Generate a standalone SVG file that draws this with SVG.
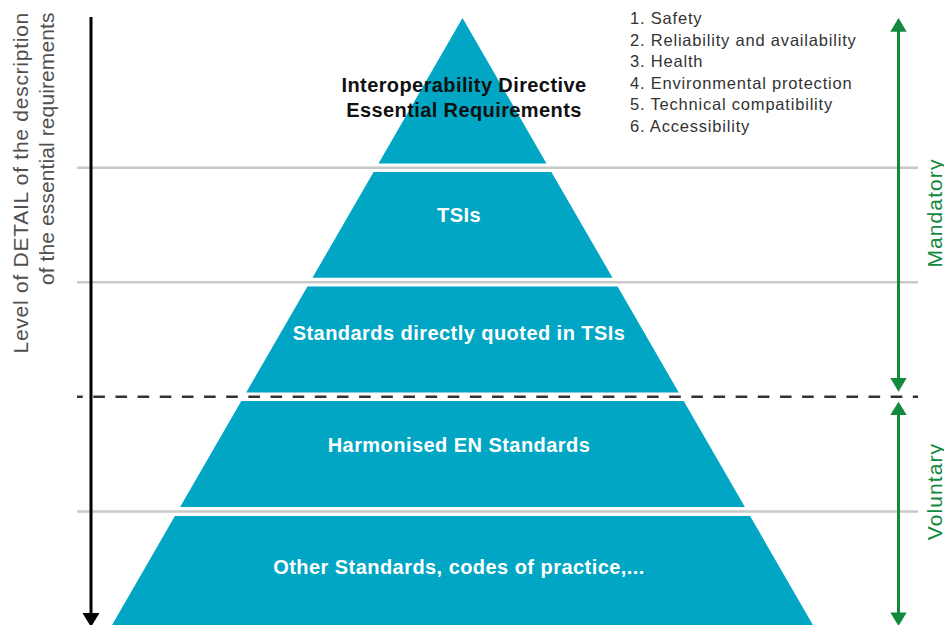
<svg xmlns="http://www.w3.org/2000/svg" width="944" height="625" viewBox="0 0 944 625">
  <defs>
    <style>
      .tier { fill: #01a6c4; }
      .sep { stroke: #c9c9c9; stroke-width: 2.5; fill: none; }
      .split { stroke: #333333; stroke-width: 2.5; stroke-dasharray: 11.6 10.55; stroke-dashoffset: 5.85; fill: none; }
      .tier-label { font-family: "Liberation Sans", Arial, sans-serif; font-weight: bold; font-size: 20px; fill: #ffffff; text-anchor: middle; letter-spacing: 0.45px; }
      .title { font-family: "Liberation Sans", Arial, sans-serif; font-weight: bold; font-size: 20px; fill: #111111; text-anchor: middle; letter-spacing: 0.4px; }
      .req { font-family: "Liberation Sans", Arial, sans-serif; font-size: 16.5px; fill: #333333; letter-spacing: 0.8px; }
      .axis-label { font-family: "Liberation Sans", Arial, sans-serif; font-size: 21px; fill: #505050; text-anchor: end; }
      .scope-label { font-family: "Liberation Sans", Arial, sans-serif; font-size: 21px; fill: #13893e; text-anchor: middle; letter-spacing: 1.1px; }
      .detail-axis { stroke: #000000; stroke-width: 3; fill: none; }
      .scope-axis { stroke: #13893e; stroke-width: 3; fill: none; }
    </style>
  </defs>

  <!-- horizontal guide lines between the tiers -->
  <g id="guides">
    <line class="sep" x1="77" y1="167.8" x2="918" y2="167.8"/>
    <line class="sep" x1="77" y1="282.2" x2="918" y2="282.2"/>
    <line class="sep" x1="77" y1="511.4" x2="918" y2="511.4"/>
  </g>

  <!-- pyramid tiers -->
  <g id="tier-directive">
    <polygon class="tier" points="462.5,18 546.5,163.5 378.5,163.5"/>
    <text class="title" x="464" y="91.5">Interoperability Directive</text>
    <text class="title" x="464" y="117.3">Essential Requirements</text>
  </g>
  <g id="tier-tsis">
    <polygon class="tier" points="373.6,172 551.4,172 612.5,277.7 312.5,277.7"/>
    <text class="tier-label" x="459" y="221.5">TSIs</text>
  </g>
  <g id="tier-quoted">
    <polygon class="tier" points="307.4,286.5 617.6,286.5 678.8,392.5 246.2,392.5"/>
    <text class="tier-label" x="459" y="340">Standards directly quoted in TSIs</text>
  </g>
  <g id="tier-harmonised">
    <polygon class="tier" points="241.3,401 683.7,401 744.9,507 180.1,507"/>
    <text class="tier-label" x="459" y="451.7">Harmonised EN Standards</text>
  </g>
  <g id="tier-other">
    <polygon class="tier" points="174.9,516 750.1,516 813.5,626 111.5,626"/>
    <text class="tier-label" x="459" y="574">Other Standards, codes of practice,...</text>
  </g>

  <!-- mandatory / voluntary boundary -->
  <g id="boundary">
    <line class="split" x1="77" y1="396.8" x2="918" y2="396.8"/>
  </g>

  <!-- essential requirements list -->
  <g id="requirements">
    <text class="req" x="630" y="24.3">1. Safety</text>
    <text class="req" x="630" y="45.8">2. Reliability and availability</text>
    <text class="req" x="630" y="67.3">3. Health</text>
    <text class="req" x="630" y="88.8">4. Environmental protection</text>
    <text class="req" x="630" y="110.3">5. Technical compatibility</text>
    <text class="req" x="630" y="131.8">6. Accessibility</text>
  </g>

  <!-- level-of-detail axis -->
  <g id="detail-axis">
    <line class="detail-axis" x1="91" y1="17" x2="91" y2="614"/>
    <polygon points="82.5,613 99.5,613 91,627" fill="#000000"/>
    <text class="axis-label" transform="rotate(-90)" x="-12" y="28.3" style="letter-spacing:0.74px">Level of DETAIL of the description</text>
    <text class="axis-label" transform="rotate(-90)" x="-12.5" y="53.8" style="letter-spacing:0.1px">of the essential requirements</text>
  </g>

  <!-- mandatory / voluntary scope arrows -->
  <g id="connectors">
    <line class="scope-axis" x1="898.5" y1="30" x2="898.5" y2="380"/>
    <polygon points="898.5,18 906.7,31.7 890.3,31.7" fill="#13893e"/>
    <polygon points="898.5,391.7 906.7,378 890.3,378" fill="#13893e"/>
    <line class="scope-axis" x1="898.5" y1="413" x2="898.5" y2="614"/>
    <polygon points="898.5,401.7 906.7,415 890.3,415" fill="#13893e"/>
    <polygon points="898.5,626 906.7,612.5 890.3,612.5" fill="#13893e"/>
  </g>
  <g id="scope-mandatory">
    <text class="scope-label" transform="rotate(-90)" x="-213" y="941.5">Mandatory</text>
  </g>
  <g id="scope-voluntary">
    <text class="scope-label" transform="rotate(-90)" x="-491.5" y="941.5">Voluntary</text>
  </g>
</svg>
